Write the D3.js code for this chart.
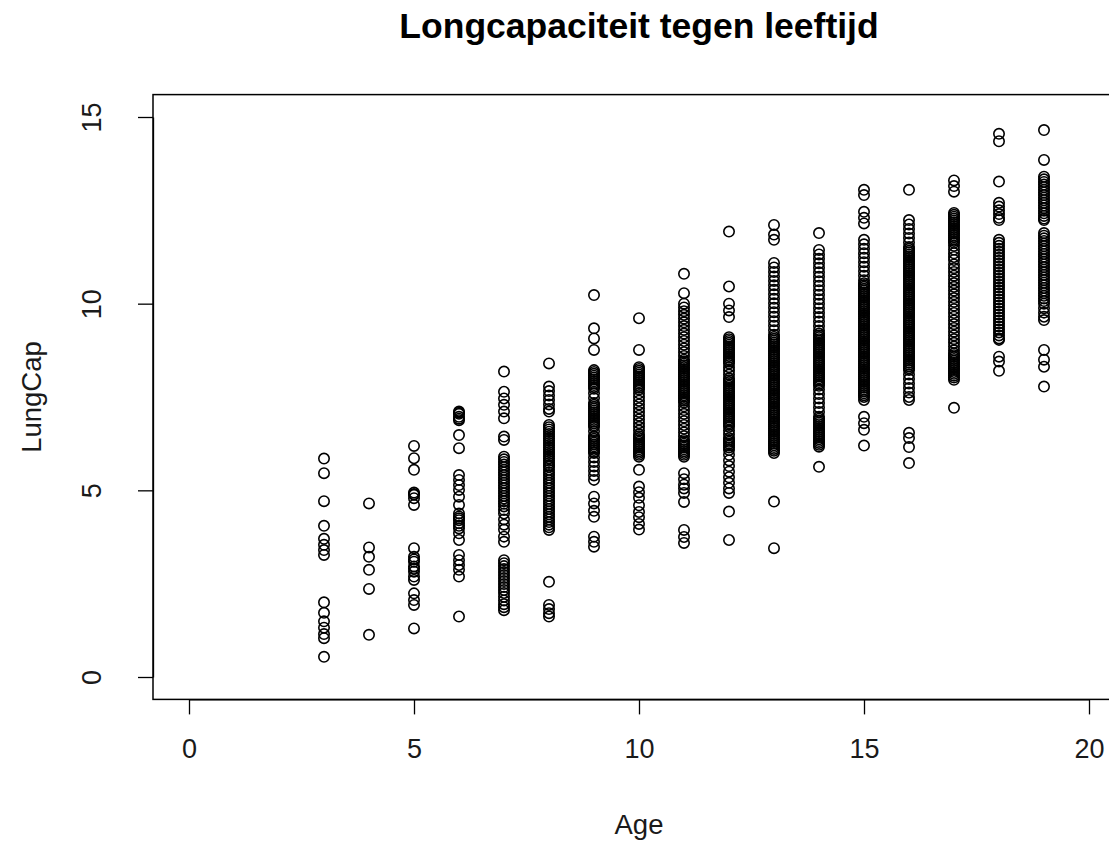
<!DOCTYPE html>
<html>
<head>
<meta charset="utf-8">
<script src="https://cdn.jsdelivr.net/npm/d3@7"></script>
<style>
  html, body { margin: 0; padding: 0; background: #fff; }
  svg { display: block; font-family: "Liberation Sans", Arial, sans-serif; }
</style>
</head>
<body>
<svg id="chart" width="1109" height="843"></svg>
<script>
// ---- Data ----
const title = "Longcapaciteit tegen leeftijd";
const xLabel = "Age";
const yLabel = "LungCap";
const xTicks = [0, 5, 10, 15, 20];
const yTicks = [0, 5, 10, 15];

const lungCapAge3 = [5.85, 5.46, 4.71, 4.05, 3.70, 3.54, 3.40, 3.27, 2.00, 1.72, 1.49, 1.32, 1.15, 1.04, 0.54];
const lungCapAge4 = [4.65, 3.47, 3.22, 2.87, 2.36, 1.13];
const lungCapAge5 = [6.19, 5.86, 5.55, 4.94, 4.90, 4.88, 4.79, 4.61, 3.45, 3.22, 3.15, 3.09, 2.96, 2.90, 2.82, 2.69, 2.60, 2.24, 2.06, 1.93, 1.30];
const lungCapAge6 = [7.11, 7.08, 7.05, 6.97, 6.92, 6.88, 6.48, 6.13, 5.41, 5.28, 5.14, 5.01, 4.83, 4.61, 4.38, 4.30, 4.25, 4.20, 4.12, 4.05, 3.98, 3.85, 3.67, 3.27, 3.13, 3.00, 2.87, 2.69, 1.62];
const lungCapAge7 = [8.18, 7.64, 7.46, 7.29, 7.11, 6.93, 6.44, 6.35, 5.90, 5.83, 5.76, 5.69, 5.62, 5.55, 5.48, 5.41, 5.34, 5.27, 5.20, 5.13, 5.06, 4.99, 4.92, 4.85, 4.78, 4.71, 4.64, 4.57, 4.47, 4.38, 4.22, 4.08, 3.95, 3.76, 3.62, 3.13, 3.05, 2.97, 2.89, 2.81, 2.73, 2.65, 2.57, 2.49, 2.41, 2.33, 2.25, 2.15, 2.05, 1.95, 1.87, 1.79];
const lungCapAge8 = [8.40, 7.78, 7.66, 7.54, 7.42, 7.30, 7.18, 7.11, 6.75, 6.69, 6.63, 6.57, 6.51, 6.45, 6.39, 6.33, 6.27, 6.21, 6.15, 6.09, 6.03, 5.97, 5.91, 5.85, 5.79, 5.73, 5.67, 5.63, 5.55, 5.48, 5.41, 5.34, 5.27, 5.20, 5.13, 5.06, 4.99, 4.92, 4.85, 4.78, 4.71, 4.64, 4.57, 4.50, 4.43, 4.36, 4.29, 4.22, 4.15, 4.08, 4.01, 3.94, 2.55, 1.93, 1.82, 1.71, 1.62];
const lungCapAge9 = [10.23, 9.34, 9.07, 8.76, 8.22, 8.17, 8.12, 8.07, 8.02, 7.97, 7.92, 7.87, 7.82, 7.77, 7.72, 7.60, 7.47, 7.34, 7.29, 7.24, 7.19, 7.14, 7.09, 7.04, 6.99, 6.94, 6.89, 6.84, 6.79, 6.74, 6.70, 6.58, 6.45, 6.43, 6.38, 6.33, 6.28, 6.23, 6.18, 6.13, 6.08, 6.03, 6.00, 5.88, 5.76, 5.64, 5.52, 5.40, 5.28, 4.83, 4.65, 4.45, 4.29, 3.76, 3.62, 3.49];
const lungCapAge10 = [9.61, 8.76, 8.30, 8.25, 8.20, 8.15, 8.10, 8.05, 8.00, 7.95, 7.90, 7.85, 7.80, 7.75, 7.70, 7.60, 7.50, 7.40, 7.30, 7.20, 7.10, 7.00, 6.90, 6.80, 6.70, 6.60, 6.50, 6.45, 6.40, 6.35, 6.30, 6.25, 6.20, 6.15, 6.10, 6.05, 6.00, 5.95, 5.90, 5.55, 5.10, 4.95, 4.80, 4.60, 4.42, 4.28, 4.10, 3.95];
const lungCapAge11 = [10.80, 10.28, 10.00, 9.90, 9.80, 9.70, 9.60, 9.50, 9.40, 9.30, 9.20, 9.10, 9.00, 8.90, 8.80, 8.70, 8.60, 8.50, 8.45, 8.40, 8.35, 8.30, 8.25, 8.20, 8.15, 8.10, 8.05, 8.00, 7.95, 7.90, 7.85, 7.80, 7.75, 7.70, 7.65, 7.60, 7.55, 7.50, 7.45, 7.40, 7.35, 7.25, 7.15, 7.05, 6.95, 6.85, 6.75, 6.65, 6.55, 6.45, 6.35, 6.30, 6.25, 6.20, 6.15, 6.10, 6.05, 6.00, 5.95, 5.90, 5.46, 5.30, 5.15, 5.05, 4.93, 4.69, 3.94, 3.75, 3.59];
const lungCapAge12 = [11.93, 10.46, 10.00, 9.82, 9.64, 9.10, 9.05, 9.00, 8.95, 8.90, 8.85, 8.80, 8.75, 8.70, 8.65, 8.60, 8.55, 8.50, 8.45, 8.40, 8.30, 8.20, 8.10, 8.00, 7.95, 7.90, 7.85, 7.80, 7.75, 7.70, 7.65, 7.60, 7.55, 7.50, 7.45, 7.40, 7.35, 7.30, 7.25, 7.20, 7.15, 7.10, 7.05, 7.00, 6.95, 6.90, 6.85, 6.80, 6.75, 6.70, 6.60, 6.50, 6.40, 6.35, 6.30, 6.25, 6.20, 6.15, 6.08, 5.95, 5.80, 5.65, 5.50, 5.35, 5.20, 5.05, 4.93, 4.43, 3.67];
const lungCapAge13 = [12.11, 11.85, 11.71, 11.09, 10.97, 10.85, 10.73, 10.61, 10.49, 10.37, 10.25, 10.13, 10.01, 9.89, 9.77, 9.65, 9.53, 9.41, 9.29, 9.17, 9.11, 9.06, 9.01, 8.96, 8.91, 8.86, 8.81, 8.76, 8.71, 8.66, 8.61, 8.56, 8.51, 8.46, 8.41, 8.36, 8.31, 8.26, 8.21, 8.16, 8.11, 8.06, 8.01, 7.96, 7.91, 7.86, 7.81, 7.76, 7.71, 7.66, 7.61, 7.56, 7.51, 7.46, 7.41, 7.36, 7.31, 7.26, 7.21, 7.16, 7.11, 7.06, 7.01, 6.96, 6.91, 6.86, 6.81, 6.76, 6.71, 6.66, 6.61, 6.56, 6.51, 6.46, 6.41, 6.36, 6.31, 6.26, 6.21, 6.16, 6.11, 6.06, 6.00, 4.70, 3.45];
const lungCapAge14 = [11.89, 11.44, 11.32, 11.20, 11.08, 10.96, 10.84, 10.72, 10.60, 10.48, 10.36, 10.24, 10.12, 10.00, 9.88, 9.76, 9.64, 9.52, 9.40, 9.28, 9.20, 9.15, 9.10, 9.05, 9.00, 8.95, 8.90, 8.85, 8.80, 8.75, 8.70, 8.65, 8.60, 8.55, 8.50, 8.45, 8.40, 8.35, 8.30, 8.25, 8.20, 8.15, 8.10, 8.05, 8.00, 7.95, 7.90, 7.85, 7.80, 7.70, 7.58, 7.46, 7.34, 7.22, 7.10, 6.97, 6.92, 6.87, 6.82, 6.77, 6.72, 6.67, 6.62, 6.57, 6.52, 6.47, 6.42, 6.37, 6.32, 6.27, 6.22, 6.17, 5.63];
const lungCapAge15 = [13.05, 12.91, 12.46, 12.30, 12.15, 11.71, 11.59, 11.47, 11.35, 11.23, 11.11, 10.99, 10.87, 10.75, 10.63, 10.55, 10.50, 10.45, 10.40, 10.35, 10.30, 10.25, 10.20, 10.15, 10.10, 10.05, 10.00, 9.95, 9.90, 9.85, 9.80, 9.75, 9.70, 9.65, 9.60, 9.55, 9.50, 9.45, 9.40, 9.35, 9.30, 9.25, 9.20, 9.15, 9.10, 9.05, 9.00, 8.95, 8.90, 8.85, 8.80, 8.75, 8.70, 8.65, 8.60, 8.55, 8.50, 8.45, 8.40, 8.35, 8.30, 8.25, 8.20, 8.15, 8.10, 8.05, 8.00, 7.95, 7.90, 7.85, 7.80, 7.75, 7.70, 7.65, 7.60, 7.55, 7.50, 7.42, 6.97, 6.80, 6.62, 6.20];
const lungCapAge16 = [13.05, 12.24, 12.12, 12.00, 11.88, 11.76, 11.64, 11.52, 11.47, 11.42, 11.37, 11.32, 11.27, 11.22, 11.17, 11.12, 11.07, 11.02, 10.97, 10.92, 10.87, 10.82, 10.77, 10.72, 10.67, 10.62, 10.57, 10.52, 10.47, 10.42, 10.37, 10.32, 10.27, 10.22, 10.17, 10.12, 10.07, 10.02, 9.97, 9.92, 9.87, 9.82, 9.77, 9.72, 9.67, 9.62, 9.57, 9.52, 9.47, 9.42, 9.37, 9.32, 9.27, 9.22, 9.17, 9.12, 9.07, 9.02, 8.97, 8.92, 8.87, 8.82, 8.77, 8.72, 8.67, 8.62, 8.57, 8.52, 8.47, 8.42, 8.37, 8.32, 8.27, 8.22, 8.10, 7.98, 7.86, 7.74, 7.62, 7.50, 7.42, 6.54, 6.40, 6.16, 5.73];
const lungCapAge17 = [13.30, 13.15, 13.00, 12.43, 12.38, 12.33, 12.28, 12.23, 12.18, 12.13, 12.08, 12.03, 11.98, 11.93, 11.88, 11.83, 11.78, 11.73, 11.68, 11.63, 11.55, 11.45, 11.35, 11.25, 11.17, 11.05, 10.95, 10.85, 10.75, 10.65, 10.55, 10.45, 10.35, 10.25, 10.15, 10.05, 9.95, 9.85, 9.75, 9.65, 9.55, 9.45, 9.35, 9.25, 9.15, 9.05, 8.95, 8.85, 8.75, 8.67, 8.62, 8.57, 8.52, 8.47, 8.42, 8.37, 8.32, 8.27, 8.22, 8.17, 8.12, 8.07, 8.02, 7.96, 7.21];
const lungCapAge18 = [14.55, 14.35, 13.27, 12.70, 12.60, 12.50, 12.40, 12.30, 12.24, 11.71, 11.63, 11.55, 11.47, 11.39, 11.31, 11.23, 11.15, 11.07, 10.99, 10.91, 10.83, 10.75, 10.67, 10.59, 10.51, 10.43, 10.35, 10.27, 10.19, 10.11, 10.03, 9.95, 9.87, 9.79, 9.71, 9.63, 9.55, 9.47, 9.39, 9.31, 9.23, 9.15, 9.07, 9.03, 8.58, 8.45, 8.20];
const lungCapAge19 = [14.65, 13.85, 13.40, 13.33, 13.26, 13.19, 13.12, 13.05, 12.98, 12.91, 12.84, 12.77, 12.70, 12.63, 12.56, 12.49, 12.42, 12.35, 12.28, 12.24, 11.89, 11.82, 11.75, 11.68, 11.61, 11.54, 11.47, 11.40, 11.33, 11.26, 11.19, 11.12, 11.05, 10.98, 10.91, 10.84, 10.77, 10.70, 10.63, 10.56, 10.49, 10.42, 10.35, 10.28, 10.21, 10.14, 10.07, 10.00, 9.88, 9.76, 9.65, 9.56, 8.76, 8.50, 8.31, 7.78];

const ages = [3, 4, 5, 6, 7, 8, 9, 10, 11, 12, 13, 14, 15, 16, 17, 18, 19];
const lungCapByAge = [lungCapAge3, lungCapAge4, lungCapAge5, lungCapAge6, lungCapAge7, lungCapAge8, lungCapAge9,
  lungCapAge10, lungCapAge11, lungCapAge12, lungCapAge13, lungCapAge14, lungCapAge15, lungCapAge16,
  lungCapAge17, lungCapAge18, lungCapAge19];

const points = [];
ages.forEach((a, i) => lungCapByAge[i].forEach(v => points.push({ age: a, lungCap: v })));

// ---- Layout ----
const svg = d3.select("#chart");
const x = d3.scaleLinear().domain([0, 20]).range([189, 1089]);
const y = d3.scaleLinear().domain([0, 15]).range([677, 117]);
const xMin = -0.8, xMax = 20.8, yMin = -0.6, yMax = 15.6;
const boxL = x(xMin), boxR = x(xMax), boxT = y(yMax), boxB = y(yMin);
const textColor = "#1a1a1a";

// Points
svg.append("g")
  .selectAll("circle")
  .data(points)
  .join("circle")
  .attr("cx", d => x(d.age))
  .attr("cy", d => y(d.lungCap))
  .attr("r", 5.2)
  .attr("fill", "none")
  .attr("stroke", "#000")
  .attr("stroke-width", 1.6);

// Box
svg.append("rect")
  .attr("x", boxL).attr("y", boxT)
  .attr("width", boxR - boxL).attr("height", boxB - boxT)
  .attr("fill", "none").attr("stroke", "#000").attr("stroke-width", 1.5);

// X axis
const xAxis = svg.append("g")
  .attr("transform", `translate(0,${boxB})`)
  .call(d3.axisBottom(x).tickValues(xTicks).tickSize(15).tickPadding(24).tickSizeOuter(0));
xAxis.select(".domain").attr("stroke", "#000").attr("stroke-width", 1.3);
xAxis.selectAll(".tick line").attr("stroke", "#000").attr("stroke-width", 1.3);
xAxis.selectAll(".tick text").attr("font-size", 27).attr("font-family", "Liberation Sans, Arial, sans-serif").attr("fill", textColor);

// Y axis
const yAxis = svg.append("g")
  .attr("transform", `translate(${boxL},0)`)
  .call(d3.axisLeft(y).tickValues(yTicks).tickSize(15).tickSizeOuter(0));
yAxis.select(".domain").attr("stroke", "#000").attr("stroke-width", 1.3);
yAxis.selectAll(".tick line").attr("stroke", "#000").attr("stroke-width", 1.3);
yAxis.selectAll(".tick text")
  .attr("x", null).attr("dy", null)
  .attr("transform", "translate(-52,0) rotate(-90)")
  .attr("text-anchor", "middle")
  .attr("font-size", 27)
  .attr("font-family", "Liberation Sans, Arial, sans-serif")
  .attr("fill", textColor);

// Labels
svg.append("text")
  .attr("x", 639).attr("y", 38)
  .attr("text-anchor", "middle")
  .attr("font-size", 35.5).attr("font-weight", "bold")
  .attr("fill", "#000")
  .text(title);

svg.append("text")
  .attr("x", (boxL + boxR) / 2).attr("y", 834)
  .attr("text-anchor", "middle")
  .attr("font-size", 27.5)
  .attr("fill", textColor)
  .text(xLabel);

svg.append("text")
  .attr("transform", `translate(41,${(boxT + boxB) / 2}) rotate(-90)`)
  .attr("text-anchor", "middle")
  .attr("font-size", 27.5)
  .attr("fill", textColor)
  .text(yLabel);
</script>
</body>
</html>
